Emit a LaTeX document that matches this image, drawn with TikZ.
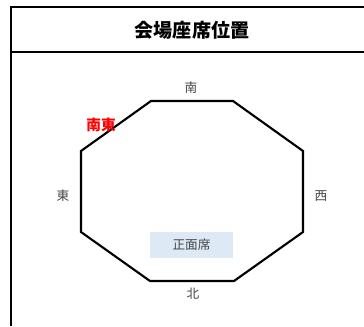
\documentclass[tikz,border=0pt]{standalone}
\usepackage{fontspec}
\setmainfont{Noto Sans CJK JP}
\definecolor{labelgray}{HTML}{444444}
\definecolor{boxblue}{HTML}{DDEAF6}
\begin{document}
\begin{tikzpicture}[x=0.75pt,y=-0.75pt,
  frame/.style={line width=1.6pt,black},
  octo/.style={line width=1.6pt,black,line join=miter},
  dir/.style={text=labelgray,font=\fontsize{9.5pt}{11pt}\selectfont,inner sep=0pt},
  hl/.style={text=red,font=\fontsize{11pt}{13pt}\selectfont\bfseries,inner sep=0pt},
  seat/.style={fill=boxblue,text=labelgray,font=\fontsize{9.5pt}{11pt}\selectfont,minimum width=83*0.75pt,minimum height=26*0.75pt,inner sep=0pt},
  title/.style={font=\fontsize{14.3pt}{16pt}\selectfont\bfseries,inner sep=0pt}]
\useasboundingbox (0,0) rectangle (364,326);
\fill[white] (0,0) rectangle (364,326);
% frame
\draw[frame] (364,7) -- (11,7) -- (11,326);
\draw[frame] (11,52) -- (364,52);
\node[title] (t) at (192,30) {会場座席位置};
% octagon
\draw[octo] (151,101) -- (233,101) -- (303,151) -- (303,232) -- (234,281) -- (150,281) -- (81,232) -- (81,151) -- cycle;
\node[seat] (s) at (191.5,245) {正面席};
\node[dir] (n) at (191,88) {南};
\node[dir] (e) at (63,196) {東};
\node[dir] (w) at (321,196) {西};
\node[dir] (b) at (193,294) {北};
\node[hl] (se) at (101,125) {南東};
\end{tikzpicture}
\end{document}
